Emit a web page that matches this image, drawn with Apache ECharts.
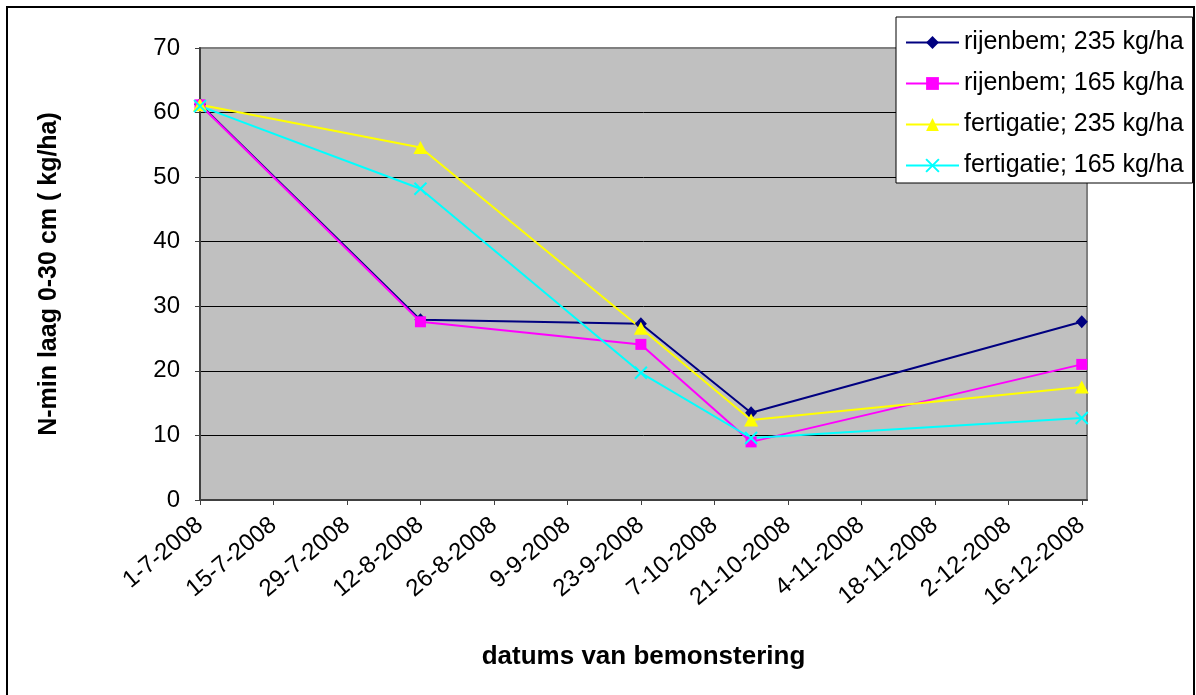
<!DOCTYPE html>
<html>
<head>
<meta charset="utf-8">
<title>N-min laag 0-30 cm</title>
<script src="https://cdn.jsdelivr.net/npm/echarts@6/dist/echarts.min.js"></script>
<style>
  html, body { margin: 0; padding: 0; background: #ffffff; }
  #chart { width: 1196px; height: 695px; }
</style>
</head>
<body>
<div id="chart"></div>
<script>
// Sampling dates (D-M-YYYY) and measured N-min values (kg/ha)
const sampleDates = ['1-7-2008', '12-8-2008', '23-9-2008', '14-10-2008', '16-12-2008'];
const rijenbem235 = [61.3, 27.9, 27.3, 13.5, 27.6];
const rijenbem165 = [61.2, 27.6, 24.1, 9.0, 21.0];
const fertigatie235 = [61.2, 54.6, 26.6, 12.4, 17.5];
const fertigatie165 = [61.0, 48.2, 19.7, 9.6, 12.7];

const seriesNames = ['rijenbem; 235 kg/ha', 'rijenbem; 165 kg/ha', 'fertigatie; 235 kg/ha', 'fertigatie; 165 kg/ha'];

// Date axis: two-week tick marks and the axis extent
const tickDates = ['1-7-2008', '15-7-2008', '29-7-2008', '12-8-2008', '26-8-2008', '9-9-2008',
  '23-9-2008', '7-10-2008', '21-10-2008', '4-11-2008', '18-11-2008', '2-12-2008', '16-12-2008'];
const axisStart = '1-7-2008';
const axisEnd = '17-12-2008';

const FONT = "'Liberation Sans', Arial, sans-serif";

function toDay(s) {
  const p = s.split('-').map(Number);
  return Date.UTC(p[2], p[1] - 1, p[0]) / 86400000;
}
const day0 = toDay(axisStart);
const dayOf = s => toDay(s) - day0;
const tickDays = tickDates.map(dayOf);
const sampleDays = sampleDates.map(dayOf);

function pairs(values) {
  return values.map((v, i) => [sampleDays[i], v]);
}

const colors = ['#000080', '#FF00FF', '#FFFF00', '#00FFFF'];
const symbols = ['diamond', 'rect', 'triangle', 'path://M0,0L10,10M10,0L0,10'];
const symbolSizes = [[12, 13], [11, 11], [14, 13], [12, 12]];
const values = [rijenbem235, rijenbem165, fertigatie235, fertigatie165];

const chart = echarts.init(document.getElementById('chart'), null, { renderer: 'canvas' });

chart.setOption({
  animation: false,
  backgroundColor: '#ffffff',
  textStyle: { fontFamily: FONT },
  graphic: [{
    type: 'rect',
    z: -10,
    shape: { x: 7, y: 7, width: 1187, height: 720 },
    style: { fill: 'none', stroke: '#000000', lineWidth: 2 }
  }],
  grid: {
    left: 200, right: 109, top: 48, bottom: 195,
    outerBoundsMode: 'none',
    show: true,
    backgroundColor: '#C0C0C0',
    borderColor: '#808080',
    borderWidth: 2
  },
  legend: {
    left: 896, top: 17,
    orient: 'vertical',
    backgroundColor: '#ffffff',
    borderColor: '#000000',
    borderWidth: 1,
    padding: [13, 9, 5, 9],
    itemGap: 16,
    itemWidth: 53,
    itemHeight: 16,
    textStyle: { fontFamily: FONT, fontSize: 25, color: '#000000', lineHeight: 25 },
    data: seriesNames
  },
  xAxis: {
    type: 'value',
    min: 0,
    max: dayOf(axisEnd),
    name: 'datums van bemonstering',
    nameLocation: 'middle',
    nameGap: 144,
    nameTextStyle: { fontFamily: FONT, fontSize: 26, fontWeight: 'bold', color: '#000000' },
    axisLine: { show: true, onZero: false, lineStyle: { color: '#404040', width: 2 } },
    axisTick: { show: true, length: 5, customValues: tickDays, lineStyle: { color: '#404040', width: 1 } },
    axisLabel: {
      customValues: tickDays,
      rotate: 40,
      margin: 22,
      fontFamily: FONT,
      fontSize: 24,
      color: '#000000',
      formatter: v => tickDates[tickDays.indexOf(v)] || ''
    },
    splitLine: { show: false }
  },
  yAxis: {
    type: 'value',
    min: 0,
    max: 70,
    interval: 10,
    name: 'N-min laag 0-30 cm ( kg/ha)',
    nameLocation: 'middle',
    nameGap: 138,
    nameTextStyle: { fontFamily: FONT, fontSize: 25, fontWeight: 'bold', color: '#000000' },
    axisLine: { show: true, lineStyle: { color: '#404040', width: 2 } },
    axisTick: { show: true, length: 5, lineStyle: { color: '#404040', width: 1 } },
    axisLabel: { margin: 20, fontFamily: FONT, fontSize: 24, color: '#000000' },
    splitLine: {
      show: true,
      lineStyle: {
        width: 1,
        color: ['#000000', '#000000', '#000000', '#000000', '#000000', '#000000', '#000000', '#808080']
      }
    }
  },
  series: seriesNames.map((name, i) => ({
    name: name,
    type: 'line',
    data: pairs(values[i]),
    symbol: symbols[i],
    symbolSize: symbolSizes[i],
    showSymbol: true,
    lineStyle: { color: colors[i], width: 2 },
    itemStyle: i === 3
      ? { color: colors[i], borderColor: colors[i], borderWidth: 2 }
      : { color: colors[i], borderWidth: 0 },
    emphasis: { disabled: true }
  }))
});
</script>
</body>
</html>
